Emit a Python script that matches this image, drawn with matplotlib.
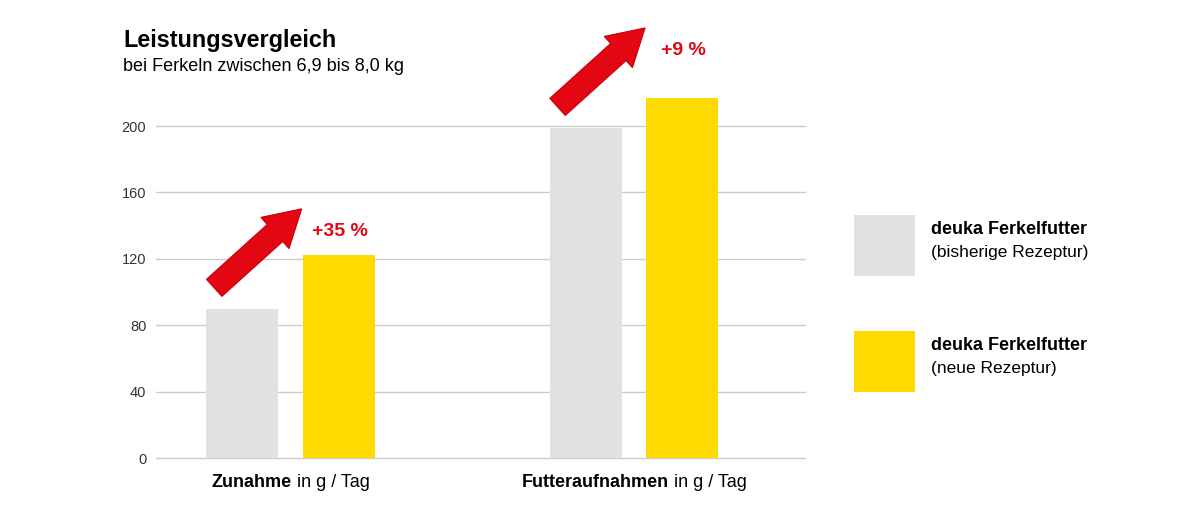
import numpy as np
import matplotlib
matplotlib.use("Agg")
from matplotlib import pyplot as plt
from matplotlib import font_manager as fm
from matplotlib.patches import Polygon, Rectangle

names = {f.name for f in fm.fontManager.ttflist}
FONT = "Liberation Sans Narrow" if "Liberation Sans Narrow" in names else "Liberation Sans"
plt.rcParams['font.family'] = [FONT, 'DejaVu Sans']

# data
groups = ["Zunahme", "Futteraufnahmen"]
group_units = ["in g / Tag", "in g / Tag"]
old_values = [90, 199]
new_values = [122, 217]
changes = ["+35 %", "+9 %"]
series = ["deuka Ferkelfutter", "deuka Ferkelfutter"]
series_sub = ["(bisherige Rezeptur)", "(neue Rezeptur)"]
yticks = [0, 40, 80, 120, 160, 200]

GRAY = "#e1e1e1"
YELLOW = "#ffda00"
RED = "#e30613"
W, H = 1200, 515

fig = plt.figure(figsize=(12, 5.15), dpi=100)
# axes in pixel terms: left 156, right 805, zero at y=458, 1.66 px per unit
ax_l, ax_r, y0, ppu = 156, 805, 458, 1.66
ymax = 250
ax = fig.add_axes([ax_l / W, 1 - y0 / H, (ax_r - ax_l) / W, ymax * ppu / H])

x = np.arange(len(groups))
bw, off = 0.21, 0.141
ax.bar(x - off, old_values, bw, color=GRAY, zorder=2)
ax.bar(x + off, new_values, bw, color=YELLOW, zorder=2)
ax.set_xlim(-0.392, 1.498)
ax.set_ylim(0, ymax)
ax.set_yticks(yticks)
ax.set_yticklabels([str(t) for t in yticks], fontsize=10.5, color="#333333")
for t in yticks:
    ax.axhline(t, color="#cccccc", lw=1, zorder=1, clip_on=False)
ax.tick_params(axis="y", length=0, pad=7)
ax.set_xticks([])
for s in ax.spines.values():
    s.set_visible(False)

# category labels below the axis: bold name + regular unit, centred on the group
fig.canvas.draw()
rend = fig.canvas.get_renderer()
gap = 5
for i, (g, u) in enumerate(zip(groups, group_units)):
    cx, cy = ax.transData.transform((x[i], 0))
    tb = fig.text(0, 0, g, fontsize=13, fontweight="bold", va="baseline")
    tn = fig.text(0, 0, u, fontsize=13, va="baseline")
    wb = tb.get_window_extent(rend).width
    wn = tn.get_window_extent(rend).width
    left = cx - (wb + gap + wn) / 2
    by = cy - 29
    tb.set_position((left / W, by / H))
    tn.set_position(((left + wb + gap) / W, by / H))

# arrows: tail relative to the grey bar, pointing up-right
inv = fig.transFigure.inverted()
for i in range(len(groups)):
    tx, ty = ax.transData.transform((x[i] - off, old_values[i]))
    tx -= 28
    ty += 12.5 * ppu
    dx, dy = 87.5, 79.0
    L = np.hypot(dx, dy)
    ux, uy = dx / L, dy / L
    nx, ny = -uy, ux
    hl, hw, sw = 36, 21, 11.5
    bx, by = tx + ux * (L - hl), ty + uy * (L - hl)
    pts = [(tx + nx * sw, ty + ny * sw), (bx + nx * sw, by + ny * sw),
           (bx + nx * hw, by + ny * hw), (tx + dx, ty + dy),
           (bx - nx * hw, by - ny * hw), (bx - nx * sw, by - ny * sw),
           (tx - nx * sw, ty - ny * sw)]
    fpts = inv.transform(pts)
    fig.patches.append(Polygon(fpts, closed=True, transform=fig.transFigure,
                               facecolor=RED, edgecolor="#c8000e", lw=0.8, figure=fig))
    fig.text((tx + dx + 38) / W, (ty + dy - 23) / H, changes[i], color=RED,
             fontsize=14, fontweight="bold", ha="center", va="center")

# title
fig.text(123 / W, 1 - 47 / H, "Leistungsvergleich", fontsize=16.8, fontweight="bold",
         ha="left", va="baseline")
fig.text(123 / W, 1 - 71 / H, "bei Ferkeln zwischen 6,9 bis 8,0 kg", fontsize=13,
         ha="left", va="baseline")

# legend
legend_colors = [GRAY, YELLOW]
legend_top = [215, 331]
for c, top, s, sub in zip(legend_colors, legend_top, series, series_sub):
    fig.patches.append(Rectangle((854 / W, 1 - (top + 61) / H), 61 / W, 61 / H,
                                 transform=fig.transFigure, facecolor=c, figure=fig))
    fig.text(931 / W, 1 - (top + 19) / H, s, fontsize=13, fontweight="bold",
             ha="left", va="baseline")
    fig.text(931 / W, 1 - (top + 42) / H, sub, fontsize=12.5, ha="left", va="baseline")

fig.savefig("out.png", dpi=100)
